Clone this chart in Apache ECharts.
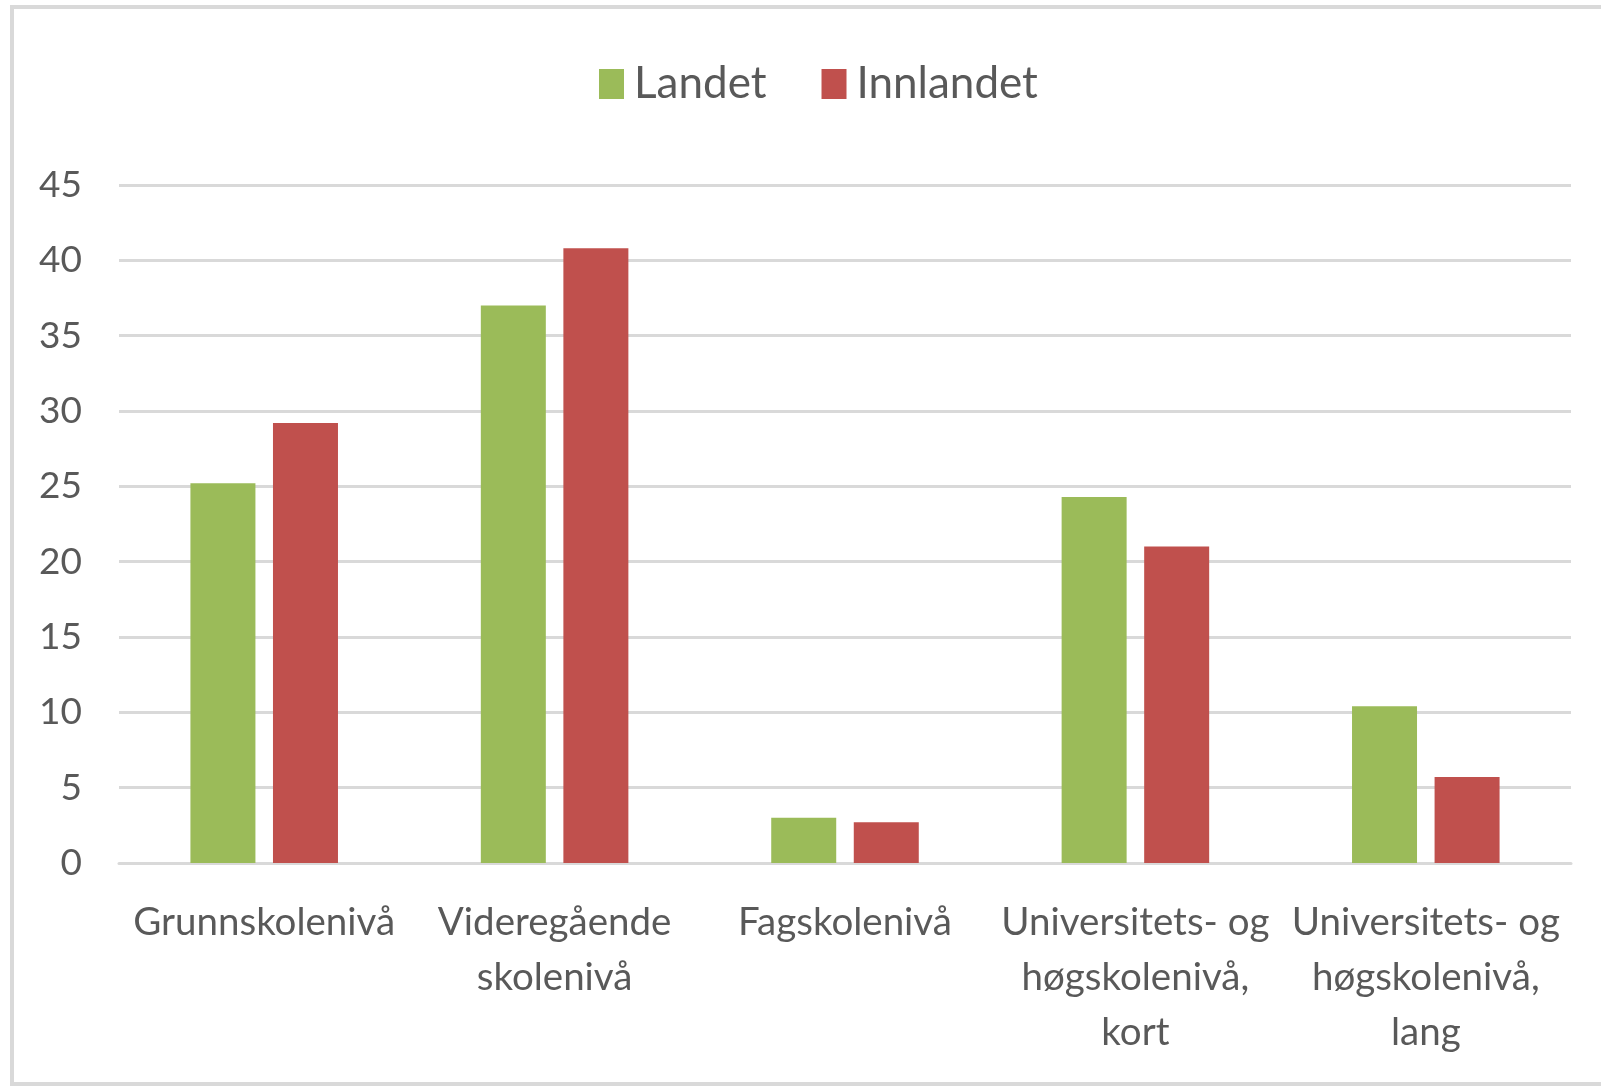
<!DOCTYPE html>
<html>
<head>
<meta charset="utf-8">
<script src="https://cdn.jsdelivr.net/npm/echarts@6/dist/echarts.min.js"></script>
<style>
html,body{margin:0;padding:0;background:#fff;}
#chart{width:1601px;height:1088px;}
</style>
</head>
<body>
<div id="chart"></div>
<script>
const categories = [
  "Grunnskolenivå",
  "Videregående\nskolenivå",
  "Fagskolenivå",
  "Universitets- og\nhøgskolenivå,\nkort",
  "Universitets- og\nhøgskolenivå,\nlang"
];
const landet = [25.2, 37.0, 3.0, 24.3, 10.4];
const innlandet = [29.2, 40.8, 2.7, 21.0, 5.7];
const seriesNames = ["Landet", "Innlandet"];
const yMin = 0, yMax = 45, yStep = 5;

const FONT = "Lato";
const TXT = "#595959";

const chart = echarts.init(document.getElementById("chart"), null, {renderer: "canvas"});
chart.setOption({
  animation: false,
  backgroundColor: "#ffffff",
  textStyle: {fontFamily: FONT},
  graphic: [{
    type: "rect",
    shape: {x: 12, y: 7, width: 1600, height: 1077},
    style: {fill: null, stroke: "#d9d9d9", lineWidth: 4},
    silent: true
  }],
  legend: {
    data: seriesNames,
    left: 599,
    top: 62,
    padding: 0,
    itemWidth: 25,
    itemHeight: 30,
    itemGap: 55,
    icon: "rect",
    textStyle: {fontFamily: FONT, fontSize: 44, color: TXT, padding: [0, 0, 0, 5]}
  },
  grid: {left: 119, right: 30, top: 185, bottom: 225, containLabel: false},
  xAxis: {
    type: "category",
    data: categories,
    axisLine: {show: true, lineStyle: {color: "#d9d9d9", width: 3}},
    axisTick: {show: false},
    axisLabel: {
      interval: 0,
      margin: 32,
      fontFamily: FONT,
      fontSize: 38.5,
      lineHeight: 55,
      color: TXT,
      align: "center"
    }
  },
  yAxis: {
    type: "value",
    min: yMin,
    max: yMax,
    interval: yStep,
    axisLine: {show: false},
    axisTick: {show: false},
    splitLine: {lineStyle: {color: "#d9d9d9", width: 3}},
    axisLabel: {margin: 37, fontFamily: FONT, fontSize: 37, color: TXT}
  },
  series: [
    {
      name: seriesNames[0],
      type: "bar",
      data: landet,
      barWidth: 65,
      barGap: "27%",
      itemStyle: {color: "#9bbb59"}
    },
    {
      name: seriesNames[1],
      type: "bar",
      data: innlandet,
      barWidth: 65,
      barGap: "27%",
      itemStyle: {color: "#c0504d"}
    }
  ]
});
</script>
</body>
</html>
